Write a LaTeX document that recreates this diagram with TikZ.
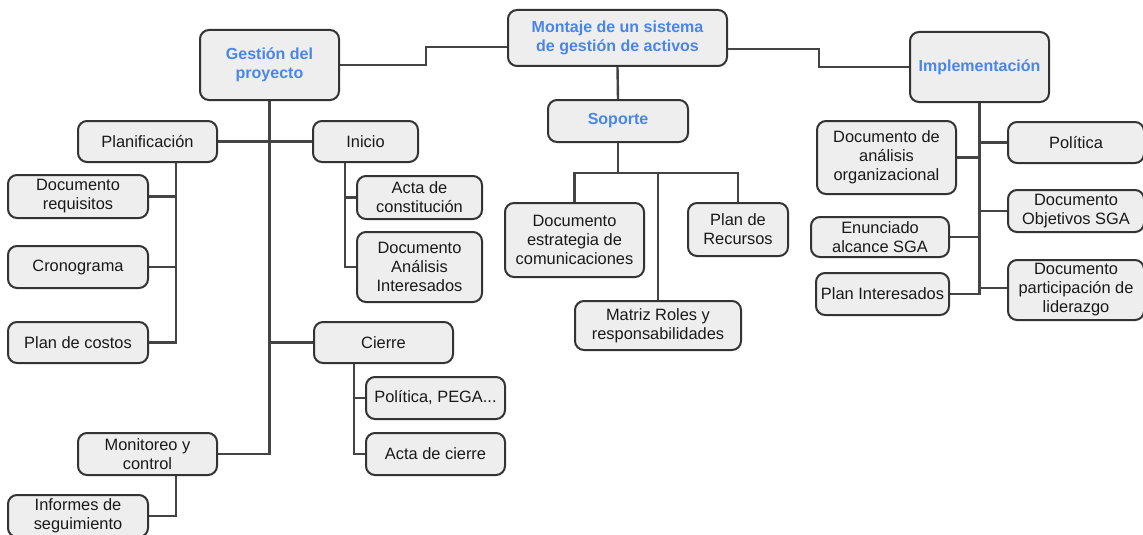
\documentclass[tikz,border=0pt]{standalone}
\usepackage{fontspec}
\setmainfont{Liberation Sans}
\usetikzlibrary{backgrounds}
\definecolor{boxfill}{RGB}{238,238,238}
\definecolor{boxline}{RGB}{51,51,51}
\definecolor{wire}{RGB}{68,68,68}
\definecolor{headblue}{RGB}{74,134,232}
\tikzset{
  box/.style={draw=boxline, line width=2pt, fill=boxfill, rounded corners=9pt,
    align=center, inner sep=0pt, font=\fontsize{16.4}{19}\selectfont, text=black!90},
  head/.style={box, font=\fontsize{16}{19}\selectfont\bfseries, text=headblue},
  wire/.style={draw=wire, line width=2.4pt},
}
\begin{document}
\begin{tikzpicture}[x=1pt, y=-1pt]
\useasboundingbox (0,0) rectangle (1143,535);
% nodes
\node[head, minimum width=219, minimum height=56] (root) at (617.5,38) {Montaje de un sistema\\de gestión de activos};
\node[head, minimum width=139, minimum height=70] (gp) at (269.5,65) {Gestión del\\proyecto};
\node[head, minimum width=139, minimum height=70] (impl) at (979.5,67) {Implementación};
\node[head, minimum width=140, minimum height=42] (sop) at (618,121) {Soporte};
\node[box, minimum width=139, minimum height=74] (est) at (574.5,240) {Documento\\estrategia de\\comunicaciones};
\node[box, minimum width=100, minimum height=53] (rec) at (738,229.5) {Plan de\\Recursos};
\node[box, minimum width=166, minimum height=49] (mat) at (658,325.5) {Matriz Roles y\\responsabilidades};
\node[box, minimum width=139, minimum height=41] (plan) at (147.5,141.5) {Planificación};
\node[box, minimum width=105, minimum height=41] (ini) at (365.5,141.5) {Inicio};
\node[box, minimum width=140, minimum height=43] (req) at (78,196.5) {Documento\\requisitos};
\node[box, minimum width=140, minimum height=42] (cro) at (78,267) {Cronograma};
\node[box, minimum width=140, minimum height=41] (cos) at (78,342.5) {Plan de costos};
\node[box, minimum width=125, minimum height=43] (act) at (419.5,197.5) {Acta de\\constitución};
\node[box, minimum width=125, minimum height=70] (ana) at (419.5,267) {Documento\\Análisis\\Interesados};
\node[box, minimum width=139, minimum height=41] (cie) at (383.5,342.5) {Cierre};
\node[box, minimum width=139, minimum height=42] (pega) at (435.5,398) {Política, PEGA...};
\node[box, minimum width=139, minimum height=42] (acie) at (435.5,454) {Acta de cierre};
\node[box, minimum width=139, minimum height=42] (mon) at (147.5,454) {Monitoreo y\\control};
\node[box, minimum width=140, minimum height=42] (inf) at (78,516) {Informes de\\seguimiento};
\node[box, minimum width=139, minimum height=73] (dao) at (886.5,157.5) {Documento de\\análisis\\organizacional};
\node[box, minimum width=136, minimum height=41] (pol) at (1076,142.5) {Política};
\node[box, minimum width=136, minimum height=42] (obj) at (1076,211) {Documento\\Objetivos SGA};
\node[box, minimum width=138, minimum height=40] (enu) at (880,237) {Enunciado\\alcance SGA};
\node[box, minimum width=133, minimum height=42] (pin) at (882.5,294) {Plan Interesados};
\node[box, minimum width=136, minimum height=60] (lid) at (1076,290) {Documento\\participación de\\liderazgo};
% helper coordinates
\coordinate (sbus) at (618,173);
\coordinate (pb) at ([xshift=28.5pt]plan.south);
\coordinate (ib) at ([xshift=-20.5pt]ini.south);
\coordinate (cb) at ([xshift=-29.5pt]cie.south);
\coordinate (mb) at ([xshift=28.5pt]mon.south);
% connectors, behind the boxes
\begin{scope}[on background layer, every path/.style={wire}]
\draw (gp.east) -- ++(86,0) |- ([yshift=-9pt]root.west);
\draw ([yshift=-11pt]root.east) -- ++(91,0) |- (impl.west);
\draw (root.south) -- (sop.north);
\draw (sop.south) -- (sbus);
\draw (est.north) |- (sbus) -| (rec.north);
\draw (mat.north) -- (mat.north |- sbus);
\draw (gp.south) -- (gp.south |- mon.east) -- (mon.east);
\draw (plan.east) -- (ini.west);
\draw (cie.west) -- (cie.west -| gp.south);
\draw (pb) |- (cos.east);
\draw (req.east) -- (req.east -| pb);
\draw (cro.east) -- (cro.east -| pb);
\draw (ib) |- (ana.west);
\draw (act.west) -- (act.west -| ib);
\draw (cb) |- (acie.west);
\draw (pega.west) -- (pega.west -| cb);
\draw (mb) |- (inf.east);
\draw (impl.south) -- (impl.south |- pin.east) -- (pin.east);
\draw (dao.east) -- (dao.east -| impl.south);
\draw (enu.east) -- (enu.east -| impl.south);
\draw (pol.west) -- (pol.west -| impl.south);
\draw (obj.west) -- (obj.west -| impl.south);
\draw ([yshift=2pt]lid.west) -- ([yshift=2pt]lid.west -| impl.south);
\end{scope}
\end{tikzpicture}
\end{document}
